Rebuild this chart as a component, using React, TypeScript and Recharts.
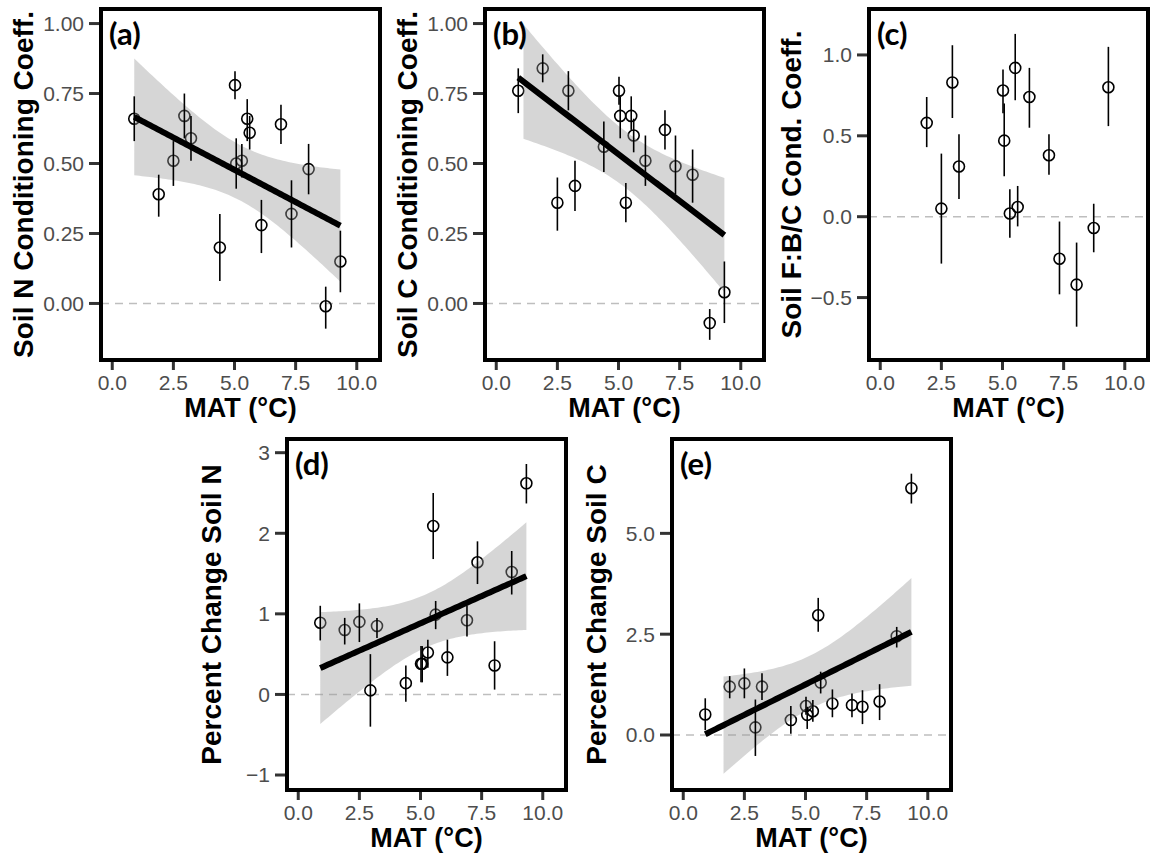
import React from "react";
import { ComposedChart, Scatter, ErrorBar, Line, Area, XAxis, YAxis, ReferenceLine } from "recharts";

// mean annual temperature of each site (shared by every panel)
const mat = [0.9, 1.9, 2.5, 2.95, 3.22, 4.4, 5.02, 5.07, 5.3, 5.52, 5.62, 6.1, 6.9, 7.33, 8.03, 8.73, 9.33];

// (a) soil N conditioning coefficient
const soilNCoef = [0.66, 0.39, 0.51, 0.67, 0.59, 0.2, 0.78, 0.5, 0.51, 0.66, 0.61, 0.28, 0.64, 0.32, 0.48, -0.01, 0.15];
const soilNCoefLo = [0.58, 0.31, 0.42, 0.59, 0.51, 0.08, 0.73, 0.41, 0.45, 0.58, 0.55, 0.18, 0.57, 0.2, 0.39, -0.09, 0.04];
const soilNCoefHi = [0.74, 0.46, 0.58, 0.75, 0.67, 0.32, 0.83, 0.59, 0.57, 0.73, 0.67, 0.37, 0.71, 0.44, 0.57, 0.06, 0.26];

// (b) soil C conditioning coefficient
const soilCCoef = [0.76, 0.84, 0.36, 0.76, 0.42, 0.56, 0.76, 0.67, 0.36, 0.67, 0.6, 0.51, 0.62, 0.49, 0.46, -0.07, 0.04];
const soilCCoefLo = [0.68, 0.79, 0.26, 0.69, 0.33, 0.47, 0.71, 0.59, 0.29, 0.62, 0.54, 0.42, 0.55, 0.39, 0.36, -0.13, -0.07];
const soilCCoefHi = [0.84, 0.89, 0.45, 0.83, 0.51, 0.65, 0.81, 0.74, 0.43, 0.74, 0.66, 0.6, 0.69, 0.6, 0.55, -0.02, 0.15];

// (c) soil F:B/C conditioning coefficient (two sites missing)
const fbCoef = [null, 0.58, 0.05, 0.83, 0.31, null, 0.78, 0.47, 0.02, 0.92, 0.06, 0.74, 0.38, -0.26, -0.42, -0.07, 0.8];
const fbCoefLo = [null, 0.43, -0.29, 0.61, 0.11, null, 0.64, 0.25, -0.13, 0.72, -0.06, 0.55, 0.26, -0.48, -0.68, -0.22, 0.56];
const fbCoefHi = [null, 0.74, 0.39, 1.06, 0.51, null, 0.91, 0.7, 0.17, 1.13, 0.19, 0.92, 0.51, -0.03, -0.16, 0.08, 1.05];

// (d) percent change soil N
const pctN = [0.89, 0.8, 0.9, 0.05, 0.85, 0.14, 0.38, 0.38, 0.52, 2.09, 0.99, 0.46, 0.92, 1.64, 0.36, 1.52, 2.62];
const pctNLo = [0.67, 0.62, 0.65, -0.4, 0.7, -0.09, 0.15, 0.15, 0.33, 1.68, 0.81, 0.23, 0.72, 1.37, 0.06, 1.24, 2.37];
const pctNHi = [1.1, 0.95, 1.13, 0.5, 0.95, 0.36, 0.6, 0.6, 0.68, 2.5, 1.16, 0.68, 1.1, 1.9, 0.66, 1.78, 2.86];

// (e) percent change soil C
const pctC = [0.51, 1.2, 1.28, 0.19, 1.2, 0.37, 0.72, 0.5, 0.59, 2.97, 1.3, 0.78, 0.74, 0.7, 0.83, 2.45, 6.12];
const pctCLo = [0.12, 0.91, 0.91, -0.52, 0.87, 0.03, 0.5, 0.15, 0.33, 2.56, 1.03, 0.44, 0.44, 0.27, 0.37, 2.17, 5.74];
const pctCHi = [0.91, 1.46, 1.65, 0.88, 1.53, 0.72, 0.95, 0.7, 0.87, 3.4, 1.57, 1.13, 1.03, 1.11, 1.26, 2.68, 6.48];

const xTicks = [0, 2.5, 5, 7.5, 10];
const coefTicks = [0, 0.25, 0.5, 0.75, 1];
const fbTicks = [-0.5, 0, 0.5, 1];
const pctNTicks = [-1, 0, 1, 2, 3];
const pctCTicks = [0, 2.5, 5];

const FONT = "'Liberation Sans', Arial, Helvetica, sans-serif";
const BOX_W = 279;
const BOX_H = 351;
const Y_AXIS_W = 60;
const X_AXIS_H = 50;
const PAD = 10;
const X_DOMAIN: [number, number] = [-0.46, 10.95];
const T_QUANT = 2.131; // qt(0.975, df = 15), n = 17 sites

const fmt = (d: number) => (v: number) => v.toFixed(d).replace("-", "\u2212");

// linear fit + 95% CI, like geom_smooth(method = "lm"); ribbon rows outside the y limits are dropped
function smooth(xs: number[], ys: number[], lim: [number, number]) {
  const n = xs.length;
  const xbar = xs.reduce((a, b) => a + b, 0) / n;
  const ybar = ys.reduce((a, b) => a + b, 0) / n;
  let sxx = 0;
  let sxy = 0;
  xs.forEach((x, i) => {
    sxx += (x - xbar) ** 2;
    sxy += (x - xbar) * (ys[i] - ybar);
  });
  const b = sxy / sxx;
  const a = ybar - b * xbar;
  let sse = 0;
  xs.forEach((x, i) => (sse += (ys[i] - a - b * x) ** 2));
  const s = Math.sqrt(sse / (n - 2));
  const x0 = Math.min(...xs);
  const x1 = Math.max(...xs);
  const line: { x: number; fit: number }[] = [];
  const band: { x: number; band: [number, number] }[] = [];
  for (let i = 0; i < 80; i++) {
    const x = x0 + ((x1 - x0) * i) / 79;
    const f = a + b * x;
    const se = s * Math.sqrt(1 / n + (x - xbar) ** 2 / sxx);
    line.push({ x, fit: f });
    const lo = f - T_QUANT * se;
    const hi = f + T_QUANT * se;
    if (lo >= lim[0] && hi <= lim[1]) band.push({ x, band: [lo, hi] });
  }
  return { line, band };
}

type PanelDef = {
  tag: string;
  left: number;
  top: number;
  yTitle: string;
  titleGap: number;
  vals: (number | null)[];
  lo: (number | null)[];
  hi: (number | null)[];
  domain: [number, number];
  ticks: number[];
  digits: number;
  lim?: [number, number];
};

const panels: PanelDef[] = [
  { tag: "(a)", left: 101, top: 9, yTitle: "Soil N Conditioning Coeff.", titleGap: 68, vals: soilNCoef, lo: soilNCoefLo, hi: soilNCoefHi, domain: [-0.202, 1.052], ticks: coefTicks, digits: 2, lim: [-1, 1] },
  { tag: "(b)", left: 485, top: 9, yTitle: "Soil C Conditioning Coeff.", titleGap: 68, vals: soilCCoef, lo: soilCCoefLo, hi: soilCCoefHi, domain: [-0.202, 1.052], ticks: coefTicks, digits: 2, lim: [-1, 1] },
  { tag: "(c)", left: 869, top: 9, yTitle: "Soil F:B/C Cond. Coeff.", titleGap: 68, vals: fbCoef, lo: fbCoefLo, hi: fbCoefHi, domain: [-0.886, 1.284], ticks: fbTicks, digits: 1 },
  { tag: "(d)", left: 287, top: 439, yTitle: "Percent Change Soil N", titleGap: 66, vals: pctN, lo: pctNLo, hi: pctNHi, domain: [-1.186, 3.17], ticks: pctNTicks, digits: 0, lim: [-1, 3] },
  { tag: "(e)", left: 672, top: 439, yTitle: "Percent Change Soil C", titleGap: 66, vals: pctC, lo: pctCLo, hi: pctCHi, domain: [-1.364, 7.34], ticks: pctCTicks, digits: 1, lim: [-1, 7] },
];

const Ring = (props: any) => {
  if (props.cx == null || props.cy == null) return null;
  return <circle cx={props.cx} cy={props.cy} r={5.5} fill="none" stroke="#000" strokeWidth={1.6} />;
};

const Panel = ({ p }: { p: PanelDef }) => {
  const pts = mat
    .map((x, i) => ({ x, v: p.vals[i], lo: p.lo[i], hi: p.hi[i] }))
    .filter((d) => d.v != null)
    .map((d) => ({ x: d.x, y: d.v as number, err: [(d.v as number) - (d.lo as number), (d.hi as number) - (d.v as number)] }));
  const fit = p.lim ? smooth(pts.map((d) => d.x), pts.map((d) => d.y), p.lim) : null;
  const tickStyle = { fill: "#4d4d4d", fontSize: 21, fontFamily: FONT };
  const tickLine = { stroke: "#333333", strokeWidth: 3 };

  return (
    <div style={{ position: "absolute", left: p.left - Y_AXIS_W, top: p.top - PAD }}>
      <ComposedChart
        width={Y_AXIS_W + BOX_W + PAD}
        height={PAD + BOX_H + X_AXIS_H}
        margin={{ top: PAD, right: PAD, left: 0, bottom: 0 }}
      >
        <XAxis
          type="number"
          dataKey="x"
          domain={X_DOMAIN}
          ticks={xTicks}
          interval={0}
          allowDataOverflow
          tickFormatter={fmt(1)}
          height={X_AXIS_H}
          tickSize={10}
          tickMargin={5}
          axisLine={false}
          tickLine={tickLine}
          tick={tickStyle}
        />
        <YAxis
          type="number"
          domain={p.domain}
          ticks={p.ticks}
          interval={0}
          allowDataOverflow
          tickFormatter={fmt(p.digits)}
          width={Y_AXIS_W}
          tickSize={12}
          tickMargin={5}
          axisLine={false}
          tickLine={tickLine}
          tick={tickStyle}
        />
        <ReferenceLine y={0} stroke="#bebebe" strokeWidth={1.5} strokeDasharray="8 6" zIndex={50} />
        <Scatter data={pts} dataKey="y" shape={Ring} isAnimationActive={false} zIndex={100}>
          <ErrorBar dataKey="err" direction="y" width={0} stroke="#000" strokeWidth={1.6} />
        </Scatter>
        {fit && (
          <Area
            data={fit.band}
            dataKey="band"
            type="linear"
            stroke="none"
            fill="#999999"
            fillOpacity={0.4}
            isAnimationActive={false}
            zIndex={200}
          />
        )}
        {fit && (
          <Line
            data={fit.line}
            dataKey="fit"
            type="linear"
            stroke="#000"
            strokeWidth={6}
            dot={false}
            activeDot={false}
            isAnimationActive={false}
            zIndex={300}
          />
        )}
      </ComposedChart>
    </div>
  );
};

const App = () => {
  return (
    <div style={{ position: "absolute", left: 0, top: 0, width: 1151, height: 856, background: "#fff" }}>
      {panels.map((p) => (
        <Panel key={p.tag} p={p} />
      ))}
      <svg width={1151} height={856} style={{ position: "absolute", left: 0, top: 0, pointerEvents: "none" }}>
        {panels.map((p) => (
          <g key={p.tag}>
            <rect x={p.left} y={p.top} width={BOX_W} height={BOX_H} fill="none" stroke="#000" strokeWidth={4} />
            <text x={p.left + 8} y={p.top + 36} fontFamily="Lato, sans-serif" fontWeight={700} fontSize={31} fill="#000">
              {p.tag}
            </text>
            <text
              x={p.left + BOX_W / 2}
              y={p.top + 408}
              textAnchor="middle"
              fontFamily={FONT}
              fontWeight={700}
              fontSize={27}
              fill="#000"
            >
              MAT (°C)
            </text>
            <text
              transform={`translate(${p.left - p.titleGap},${p.top + BOX_H / 2}) rotate(-90)`}
              textAnchor="middle"
              fontFamily={FONT}
              fontWeight={700}
              fontSize={28}
              fill="#000"
            >
              {p.yTitle}
            </text>
          </g>
        ))}
      </svg>
    </div>
  );
};

export default App;
